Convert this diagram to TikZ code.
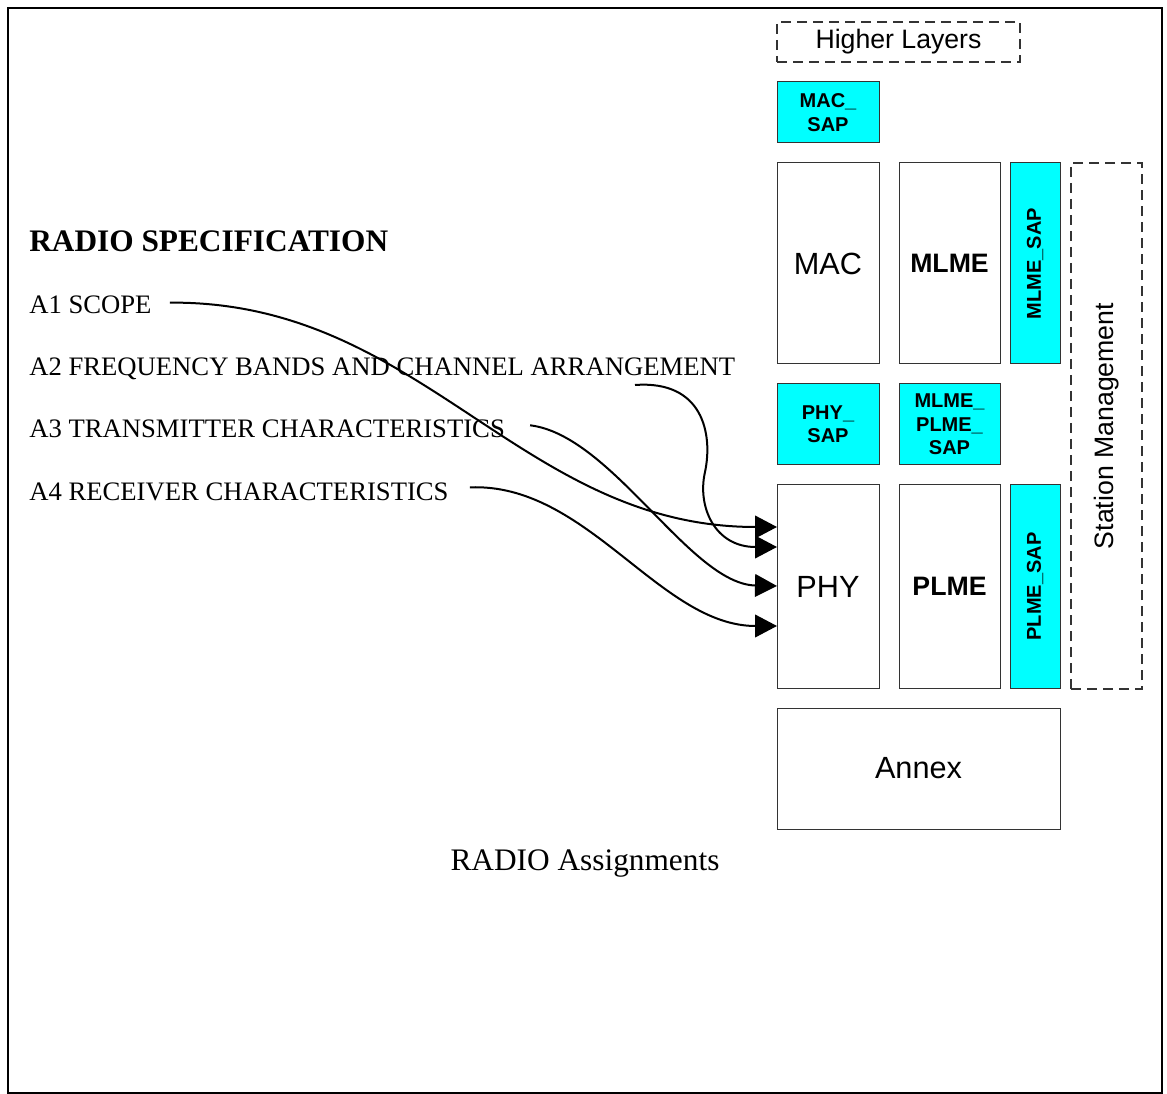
\documentclass[tikz,border=0pt]{standalone}
\usepackage{fontspec}
\setmainfont{Liberation Serif}
\setsansfont{Liberation Sans}
\usetikzlibrary{arrows.meta,positioning}
\definecolor{sapcyan}{HTML}{00FFFF}
\definecolor{boxline}{HTML}{333333}

\begin{document}
\begin{tikzpicture}[
  x=0.75pt, y=-0.75pt,
  layer/.style={draw=boxline, line width=0.75pt, outer sep=0pt, minimum width=76.5pt, inner sep=0pt, align=center, font=\sffamily\fontsize{23}{27}\selectfont},
  sap/.style={layer, fill=sapcyan, font=\sffamily\bfseries\fontsize{15}{17.5}\selectfont},
  mgmt/.style={layer, font=\sffamily\bfseries\fontsize{20}{24}\selectfont},
  dashbox/.style={draw=boxline, line width=1pt, outer sep=0pt, dash pattern=on 7.5pt off 4.5pt, inner sep=0pt, font=\sffamily\fontsize{20}{24}\selectfont},
  item/.style={anchor=base west, inner sep=0pt, font=\fontsize{20}{24}\selectfont},
  link/.style={-{Triangle[length=16.5pt,width=17pt]}, line width=1.5pt}
]
\useasboundingbox (0,0) rectangle (1167,1094);
\draw[line width=1.5pt] (8,8) rectangle (1162,1093);

% layer stack
\node[layer, anchor=north west, minimum height=150.75pt] (mac) at (777,163) {MAC};
\node[mgmt, right=15pt of mac, minimum width=75.75pt, minimum height=150.75pt] (mlme) {MLME};
\node[sap, right=7.5pt of mlme, minimum width=37.5pt, minimum height=150.75pt] (mlmesap) {\rotatebox{90}{MLME\_SAP}};
\node[dashbox, right=8.25pt of mlmesap.north east, anchor=north west, minimum width=53.25pt, minimum height=394.5pt] (station) {\rotatebox{90}{Station Management}};
\node[sap, above=15pt of mac, minimum height=45.75pt] (macsap) {MAC\_\\SAP};
\node[dashbox, above=15pt of macsap.north west, anchor=south west, minimum width=182.25pt, minimum height=30pt] (higher) {Higher Layers};
\node[sap, below=15pt of mac, minimum height=60.75pt] (physap) {PHY\_\\SAP};
\node[sap, below=15pt of mlme, minimum width=75.75pt, minimum height=60.75pt] (mlmeplmesap) {MLME\_\\PLME\_\\SAP};
\node[layer, below=15pt of physap, minimum height=152.25pt] (phy) {PHY};
\node[mgmt, below=15pt of mlmeplmesap, minimum width=75.75pt, minimum height=152.25pt] (plme) {PLME};
\node[sap, right=7.5pt of plme, minimum width=37.5pt, minimum height=152.25pt] (plmesap) {\rotatebox{90}{PLME\_SAP}};
\node[layer, below=15pt of phy.south west, anchor=north west, minimum width=212.25pt, minimum height=90.75pt] (annex) {Annex};

% specification text
\node[item, font=\bfseries\fontsize{23.5}{28}\selectfont] (title) at (29,252) {RADIO SPECIFICATION};
\node[item] (a1) at (29,314) {A1 SCOPE};
\node[item, below=46.5pt of a1.base west, anchor=base west] (a2) {A2 FREQUENCY BANDS AND CHANNEL ARRANGEMENT};
\node[item, below=46.5pt of a2.base west, anchor=base west] (a3) {A3 TRANSMITTER CHARACTERISTICS};
\node[item, below=46.5pt of a3.base west, anchor=base west] (a4) {A4 RECEIVER CHARACTERISTICS};
\node[item, anchor=base, font=\fontsize{23.5}{28}\selectfont] (assign) at (585,870) {RADIO Assignments};

% arrow tails and heads
\coordinate (t1) at ([xshift=13.5pt,yshift=2pt]a1.east);
\coordinate (t2) at (635,385);
\coordinate (m2) at (705,472);
\coordinate (t3) at ([xshift=18.75pt,yshift=3pt]a3.east);
\coordinate (t4) at ([xshift=15.75pt,yshift=3pt]a4.east);
\coordinate (h1) at ([yshift=-31.5pt]phy.north west);
\coordinate (h2) at ([yshift=-46.5pt]phy.north west);
\coordinate (h3) at ([yshift=-75.75pt]phy.north west);
\coordinate (h4) at ([yshift=-105.75pt]phy.north west);

\draw[link] (t1) .. controls +(252,-2) and +(-257,0) .. (h1);
\draw[link] (t2) .. controls +(68,-5) and +(8,-38) .. (m2) .. controls +(-8,35) and +(-62,0) .. (h2);
\draw[link] (t3) .. controls +(82,10) and +(-87,-2) .. (h3);
\draw[link] (t4) .. controls +(117,-5) and +(-117,0) .. (h4);
\end{tikzpicture}
\end{document}
